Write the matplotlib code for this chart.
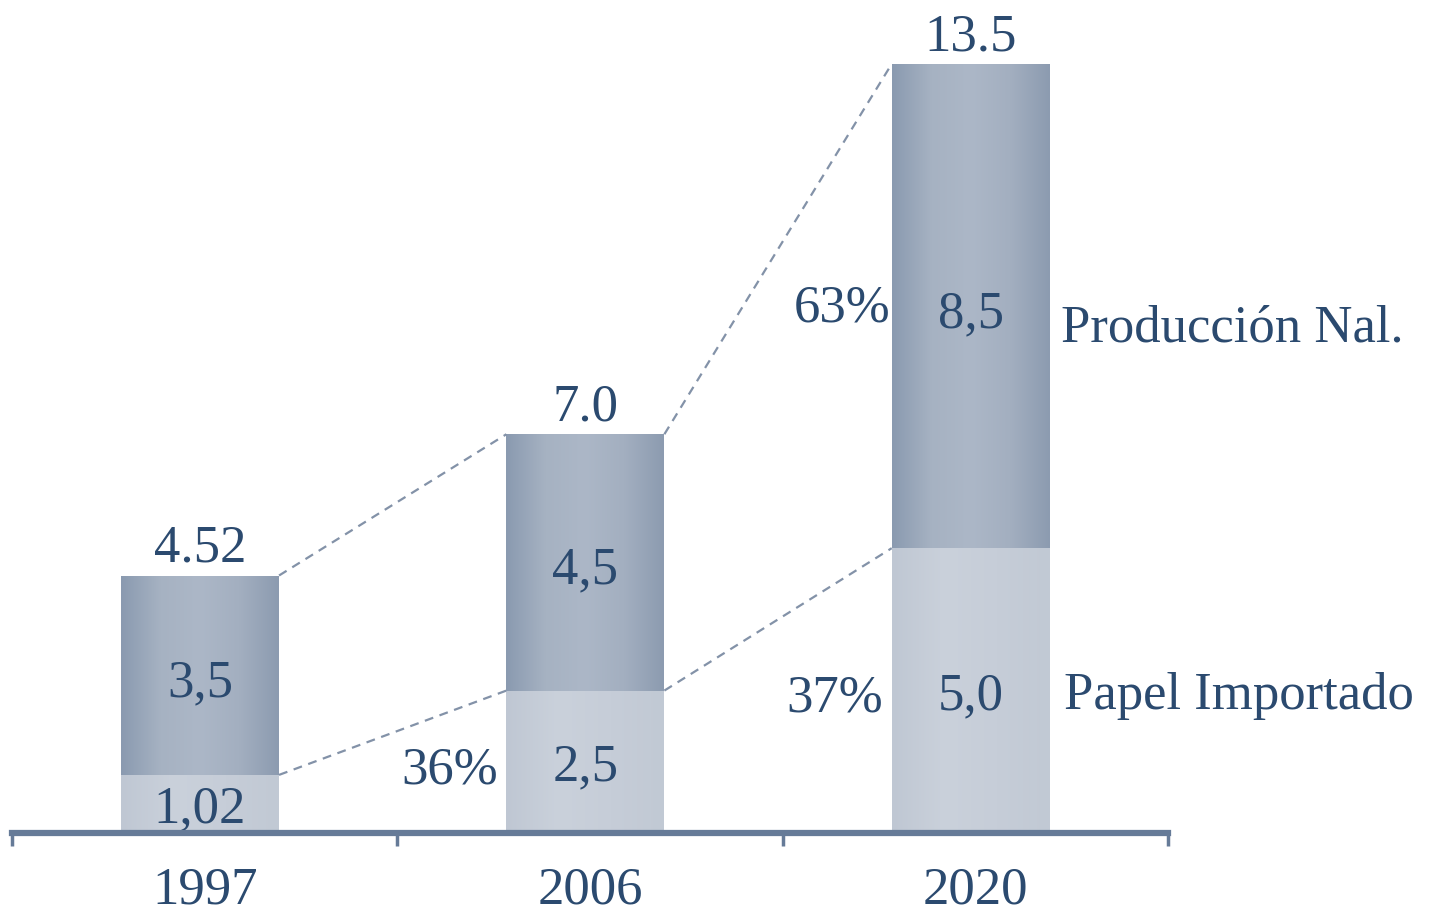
import numpy as np
import matplotlib.pyplot as plt
from matplotlib.colors import LinearSegmentedColormap

# data
years = ['1997', '2006', '2020']
importado = [1.02, 2.5, 5.0]
produccion = [3.5, 4.5, 8.5]
totales = ['4.52', '7.0', '13.5']
lbl_importado = ['1,02', '2,5', '5,0']
lbl_produccion = ['3,5', '4,5', '8,5']
pct_labels = {1: (None, '36%'), 2: ('63%', '37%')}

plt.rcParams['font.family'] = ['Liberation Serif', 'DejaVu Serif']
txt_color = '#2b4a6f'
fs = 38

fig = plt.figure(figsize=(14.45, 9.14), dpi=100)
ax = fig.add_axes([12 / 1445, 81 / 914, 1156 / 1445, 826 / 914])

x = np.arange(len(years)) - 0.012
width = 0.41

# gradient fills clipped to the bars
grad_dark = LinearSegmentedColormap.from_list('g1', ['#8a9ab0', '#a6b2c2', '#acb7c7', '#a3afc0', '#8c9bb0'])
grad_light = LinearSegmentedColormap.from_list('g2', ['#bfc7d3', '#cad1db', '#c6cdd8', '#c1c9d4'])
grad = np.linspace(0, 1, 256).reshape(1, -1)

bars_bot = ax.bar(x, importado, width, color='#c4ccd7', zorder=2)
bars_top = ax.bar(x, produccion, width, bottom=importado, color='#9eabbd', zorder=2)
for bars, cmap in [(bars_bot, grad_light), (bars_top, grad_dark)]:
    for b in bars:
        x0, y0 = b.get_x(), b.get_y()
        im = ax.imshow(grad, cmap=cmap, aspect='auto', zorder=3,
                       extent=[x0, x0 + b.get_width(), y0, y0 + b.get_height()])
        im.set_clip_path(b)

# dashed connectors between bars
tops = np.array(importado) + np.array(produccion)
for i in range(len(years) - 1):
    xa = x[i] + width / 2
    xb = x[i + 1] - width / 2
    ax.plot([xa, xb], [tops[i], tops[i + 1]], ls=(0, (4, 3)), color='#8392a8', lw=1.6, zorder=4)
    ax.plot([xa, xb], [importado[i], importado[i + 1]], ls=(0, (4, 3)), color='#8392a8', lw=1.6, zorder=4)


def label(xv, yv, s, ha='center', dx=0, dy=-6):
    ax.annotate(s, (xv, yv), xytext=(dx, dy), textcoords='offset points',
                ha=ha, va='center', fontsize=fs, color=txt_color, zorder=5,
                annotation_clip=False)


for i in range(len(years)):
    ax.annotate(totales[i], (x[i], tops[i]), xytext=(0, 2), textcoords='offset points',
                ha='center', va='bottom', fontsize=fs, color=txt_color, zorder=5)
    label(x[i], importado[i] / 2, lbl_importado[i], dy=-4)
    label(x[i], importado[i] + produccion[i] / 2, lbl_produccion[i])

for i, (p_top, p_bot) in pct_labels.items():
    if p_top:
        label(x[i] - width / 2, importado[i] + produccion[i] / 2, p_top, ha='right', dx=-1, dy=-2)
    label(x[i] - width / 2, importado[i] / 2, p_bot, ha='right', dx=-6)

# series names on the right
label(x[-1] + width / 2, importado[-1] + produccion[-1] / 2, 'Producción Nal.', ha='left', dx=8, dy=-16)
label(x[-1] + width / 2, importado[-1] / 2, 'Papel Importado', ha='left', dx=10, dy=-4)

# axes styling
ax.set_xlim(-0.5, 2.5)
ax.set_ylim(0, 14.5)
for s in ['top', 'left', 'right']:
    ax.spines[s].set_visible(False)
ax.spines['bottom'].set_color('#667b98')
ax.spines['bottom'].set_linewidth(4.5)
ax.spines['bottom'].set_zorder(6)
ax.set_yticks([])
ax.set_xticks(np.arange(len(years)))
ax.set_xticklabels(years, fontsize=fs, color=txt_color)
ax.tick_params(axis='x', which='major', length=0, pad=24)
ax.set_xticks([-0.5, 0.5, 1.5, 2.5], minor=True)
ax.tick_params(axis='x', which='minor', length=9, width=2.5, color='#667b98')
ax.patch.set_visible(False)

plt.savefig('out.png', dpi=100)
